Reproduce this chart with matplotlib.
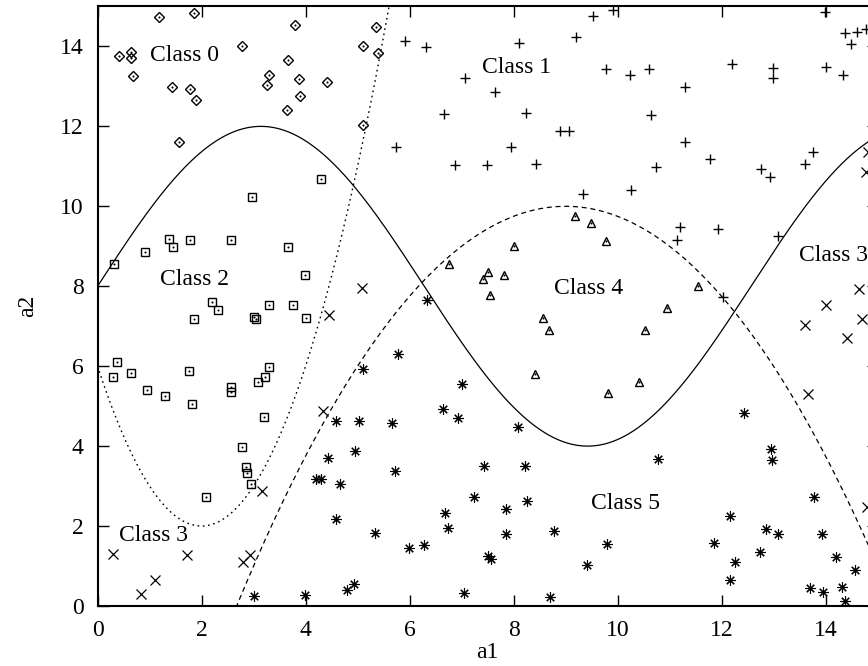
import numpy as np
import matplotlib.pyplot as plt

plt.rcParams['font.family'] = ['Liberation Serif', 'DejaVu Serif']
plt.rcParams['font.size'] = 17

# points per class (a1, a2)
class0_x = [0.41, 0.64, 0.64, 0.68, 1.19, 1.86, 1.43, 1.78, 1.89, 1.57, 2.78, 3.80, 3.67, 3.29,
            3.25, 3.87, 3.90, 3.64, 5.35, 5.10, 5.39, 4.42, 5.11]
class0_y = [13.76, 13.85, 13.70, 13.25, 14.73, 14.83, 12.99, 12.93, 12.66, 11.61, 14.00, 14.54, 13.65, 13.28,
            13.03, 13.18, 12.77, 12.42, 14.49, 14.02, 13.84, 13.12, 12.03]

class1_x = [5.91, 6.32, 8.10, 9.21, 7.07, 7.64, 6.67, 8.24, 8.89, 9.07, 5.73, 7.96, 6.88, 7.49, 8.43,
            9.92, 9.53, 9.78, 10.23, 10.61, 11.30, 12.20, 12.99, 12.98, 13.99, 14.01, 14.34, 14.38,
            14.61, 14.78, 14.49, 10.65, 11.29, 10.73, 11.78, 12.75, 12.93, 13.75, 13.61, 9.34, 10.26,
            11.20, 11.15, 11.94, 13.08, 12.02]
class1_y = [14.13, 13.99, 14.08, 14.23, 13.20, 12.85, 12.30, 12.33, 11.88, 11.88, 11.49, 11.49, 11.04, 11.04, 11.06,
            14.91, 14.76, 13.43, 13.29, 13.44, 12.98, 13.55, 13.45, 13.22, 14.87, 13.49, 13.28, 14.33,
            14.37, 14.44, 14.05, 12.28, 11.60, 10.99, 11.18, 10.94, 10.74, 11.36, 11.06, 10.30, 10.42,
            9.48, 9.16, 9.43, 9.26, 7.74]

class2_x = [2.97, 1.37, 1.78, 2.57, 3.67, 1.46, 4.29, 0.32, 0.92, 2.20, 2.32, 1.85, 3.01, 3.05, 3.30,
            3.76, 0.37, 0.30, 0.65, 0.96, 1.30, 1.75, 1.81, 2.56, 2.57, 3.30, 3.22, 3.08, 3.21, 2.78,
            3.99, 4.01, 2.85, 2.87, 2.96, 2.09]
class2_y = [10.23, 9.19, 9.16, 9.15, 8.99, 8.98, 10.68, 8.56, 8.85, 7.61, 7.41, 7.19, 7.22, 7.18, 7.54,
            7.54, 6.11, 5.74, 5.82, 5.40, 5.25, 5.87, 5.05, 5.47, 5.36, 5.99, 5.73, 5.60, 4.74, 3.98,
            8.28, 7.20, 3.47, 3.32, 3.06, 2.73]

class3_x = [0.30, 1.72, 1.11, 0.84, 2.79, 2.94, 3.16, 5.08, 4.46, 4.34, 14.64, 14.01, 13.60, 14.71,
            14.41, 13.67, 14.81, 14.77, 14.80]
class3_y = [1.31, 1.27, 0.64, 0.31, 1.10, 1.27, 2.88, 7.96, 7.29, 4.88, 7.92, 7.52, 7.04, 7.19,
            6.70, 5.30, 11.37, 10.87, 2.48]

class4_x = [8.00, 6.76, 7.51, 7.42, 7.82, 7.55, 8.57, 8.69, 8.41, 9.18, 9.49, 9.77, 11.55, 10.96,
            10.52, 10.42, 9.82]
class4_y = [9.01, 8.56, 8.36, 8.17, 8.27, 7.77, 7.21, 6.91, 5.80, 9.76, 9.59, 9.14, 8.01, 7.45,
            6.91, 5.61, 5.32]

class5_x = [6.34, 5.78, 5.10, 7.01, 6.64, 6.93, 8.09, 4.58, 5.03, 5.66, 4.96, 4.44, 5.72, 4.20, 4.30,
            4.66, 4.58, 5.34, 5.98, 6.28, 6.68, 6.73, 7.24, 7.43, 8.22, 7.85, 8.26, 7.85, 8.78, 7.50,
            7.57, 7.05, 8.71, 3.98, 4.80, 4.94, 3.01, 10.77, 12.96, 12.97, 13.78, 12.16, 11.86, 12.85,
            13.08, 13.94, 12.73, 12.26, 12.17, 14.20, 14.57, 13.70, 13.96, 14.32, 14.38, 9.79, 9.42, 12.44]
class5_y = [7.66, 6.30, 5.92, 5.55, 4.92, 4.71, 4.47, 4.64, 4.64, 4.57, 3.88, 3.71, 3.37, 3.18, 3.18,
            3.05, 2.17, 1.83, 1.44, 1.52, 2.32, 1.96, 2.73, 3.51, 3.50, 2.42, 2.63, 1.81, 1.88, 1.26,
            1.18, 0.32, 0.22, 0.28, 0.40, 0.55, 0.25, 3.69, 3.92, 3.65, 2.72, 2.24, 1.58, 1.93,
            1.79, 1.79, 1.34, 1.11, 0.64, 1.23, 0.89, 0.46, 0.35, 0.48, 0.12, 1.54, 1.03, 4.82]

labels = ['Class 0', 'Class 1', 'Class 2', 'Class 3', 'Class 3', 'Class 4', 'Class 5']
label_x = [1.68, 8.05, 1.87, 13.48, 1.07, 9.45, 10.15]
label_y = [13.78, 13.47, 8.16, 8.78, 1.76, 7.95, 2.57]

# boundary curves: solid sine, dotted parabola, dashed parabola
sine_mid, sine_amp, sine_k = 8.0, 4.0, 0.5
dot_x0, dot_y0, dot_a = 2.0, 2.0, 1.0
dash_x0, dash_y0, dash_a = 9.0, 10.0, -0.25

fig = plt.figure(figsize=(8.68, 6.66), dpi=100)
ax = fig.add_axes([0.1124, 0.0901, 0.8986, 0.9002])

xx = np.linspace(0, 15, 800)
ax.plot(xx, sine_mid + sine_amp * np.sin(sine_k * xx), color='black', lw=0.9)
yd = dot_y0 + dot_a * (xx - dot_x0) ** 2
m = yd <= 15.5
ax.plot(xx[m], yd[m], color='black', lw=1.0, linestyle=(0, (1.2, 2.6)))
yq = dash_y0 + dash_a * (xx - dash_x0) ** 2
m = yq >= -0.5
ax.plot(xx[m], yq[m], color='black', lw=0.9, linestyle=(0, (4, 3)))

mk = dict(linestyle='none', color='black', mfc='none', clip_on=False)
ax.plot(class0_x, class0_y, marker='D', ms=5, mew=1.0, **mk)
ax.plot(class1_x, class1_y, marker='+', ms=7.5, mew=1.0, **mk)
ax.plot(class2_x, class2_y, marker='s', ms=6, mew=1.0, **mk)
ax.plot(class3_x, class3_y, marker='x', ms=6.5, mew=0.9, **mk)
ax.plot(class4_x, class4_y, marker='^', ms=5.5, mew=1.0, **mk)
ax.plot(class5_x, class5_y, marker=(8, 2, 0), ms=7.5, mew=0.8, **mk)
for cx, cy in [(class0_x, class0_y), (class2_x, class2_y), (class4_x, class4_y), (class5_x, class5_y)]:
    ax.plot(cx, cy, linestyle='none', marker='o', ms=1.5, color='black', mew=0)

for t, lx, ly in zip(labels, label_x, label_y):
    ha = 'left' if lx > 13 else 'center'
    ax.text(lx, ly, t, ha=ha, va='center', fontsize=17)

ax.set_xlim(0, 15)
ax.set_ylim(0, 15)
ax.set_xticks(np.arange(0, 15, 2))
ax.set_yticks(np.arange(0, 15, 2))
ax.tick_params(direction='in', length=8, width=1.0, top=True, right=True, pad=10, labelsize=17)
for s in ax.spines.values():
    s.set_linewidth(1.5)
ax.set_xlabel('a1', fontsize=17, labelpad=1)
ax.set_ylabel('a2', fontsize=17, labelpad=16)

fig.savefig('out.png', dpi=100)
